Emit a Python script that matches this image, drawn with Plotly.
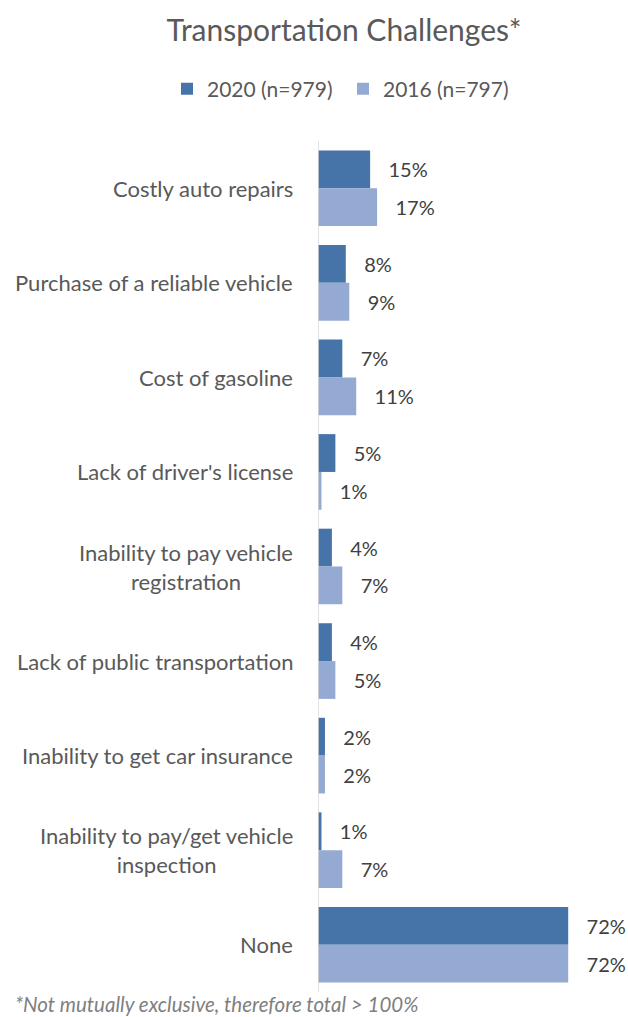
import plotly.graph_objects as go

categories = [
    "Costly auto repairs",
    "Purchase of a reliable vehicle",
    "Cost of gasoline",
    "Lack of driver's license",
    "Inability to pay vehicle<br>registration",
    "Lack of public transportation",
    "Inability to get car insurance",
    "Inability to pay/get vehicle<br>inspection",
    "None",
]
values_2020 = [15, 8, 7, 5, 4, 4, 2, 1, 72]
values_2016 = [17, 9, 11, 1, 7, 5, 2, 7, 72]
series_names = ["2020 (n=979)", "2016 (n=797)"]
series_colors = ["#4673A8", "#95AAD2"]

FONT = "Lato"
PAD = "\u00a0\u00a0\u00a0"

# plot area: x from 318 to 596 px, y from 141 to 992 px
L, R, T, B = 318, 32, 141, 25
W, H = 628, 1017
pw, ph = W - L - R, H - T - B

fig = go.Figure()
for name, vals, color in zip(series_names, [values_2020, values_2016], series_colors):
    fig.add_trace(go.Bar(
        y=categories,
        x=vals,
        name=name,
        orientation="h",
        marker=dict(color=color, line=dict(width=0)),
        text=vals,
        texttemplate=PAD + "%{x}%",
        textposition="outside",
        constraintext="none",
        cliponaxis=False,
        textfont=dict(family=FONT, size=20, color="#404040"),
        hoverinfo="skip",
    ))

for cat in categories:
    fig.add_annotation(
        x=0, xref="paper", xshift=-23, xanchor="right",
        y=cat, yref="y", yanchor="middle",
        text=cat, align="center", showarrow=False,
        font=dict(family=FONT, size=22, color="#595959"),
    )

fig.add_annotation(
    x=0, xref="paper", xshift=-(L - 13), xanchor="left",
    y=0, yref="paper", yshift=-12, yanchor="middle",
    text="<i>*Not mutually exclusive, therefore total > 100%</i>",
    showarrow=False,
    font=dict(family=FONT, size=20.5, color="#7F7F7F"),
)

fig.update_layout(
    width=W, height=H,
    margin=dict(l=L, r=R, t=T, b=B),
    paper_bgcolor="white", plot_bgcolor="white",
    barmode="group", bargap=0.2, bargroupgap=0,
    title=dict(
        text="Transportation Challenges*",
        x=344 / W, xref="container", xanchor="center",
        y=1 - 30 / H, yref="container", yanchor="middle",
        font=dict(family=FONT, size=30, color="#595959"),
    ),
    legend=dict(
        orientation="h",
        x=(167 - L) / pw, xref="paper", xanchor="left",
        y=(H - B - 89) / ph, yref="paper", yanchor="middle",
        font=dict(family=FONT, size=21, color="#595959"),
        traceorder="normal",
        itemwidth=30,
        entrywidth=131, entrywidthmode="pixels",
    ),
    showlegend=True,
)
fig.update_xaxes(range=[0, 80], visible=False, fixedrange=True)
fig.update_yaxes(
    autorange="reversed", showticklabels=False, ticks="",
    showgrid=False, zeroline=False, fixedrange=True,
)
# vertical category axis line at x = 0
fig.add_shape(
    type="line", xref="x", yref="paper", x0=0, x1=0, y0=0, y1=1,
    line=dict(color="#D9D9D9", width=1.5),
)

fig.write_html("out.html")
